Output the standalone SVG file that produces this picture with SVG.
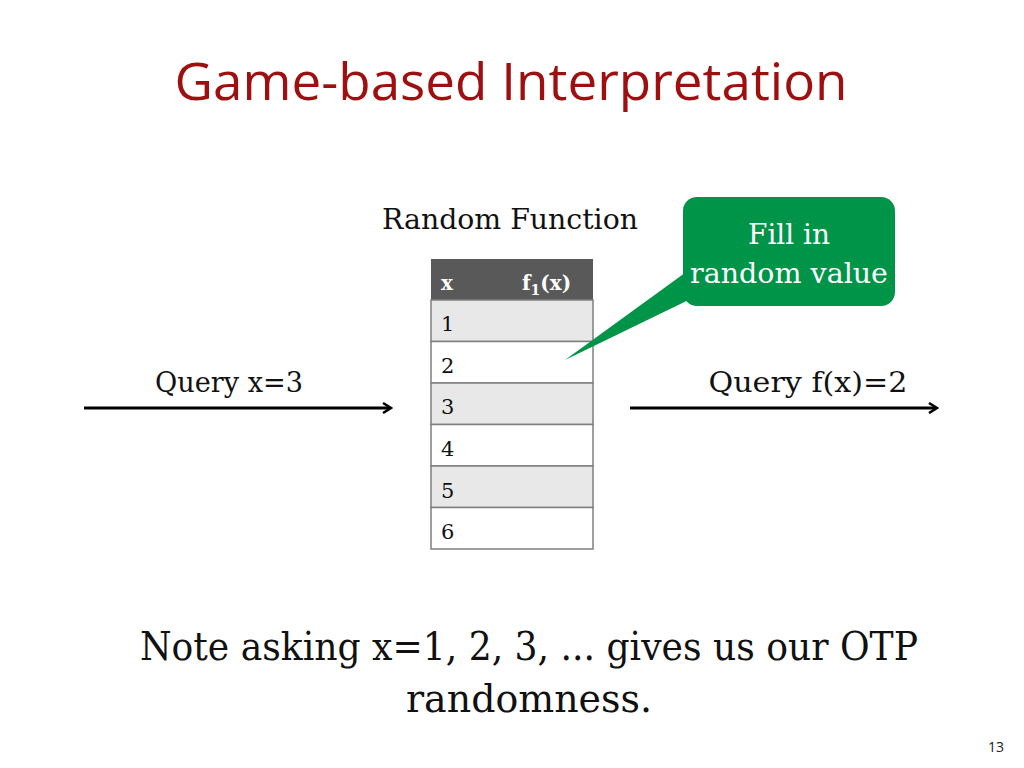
<svg xmlns="http://www.w3.org/2000/svg" width="1024" height="768" viewBox="0 0 1024 768">
<defs>
<style>
.serif{font-family:"DejaVu Serif","Liberation Serif",serif;fill:#111}
.row{fill:#fff;stroke:#7f7f7f;stroke-width:1.5}
.alt{fill:#e8e8e8;stroke:#7f7f7f;stroke-width:1.5}
.num{font-family:"DejaVu Serif","Liberation Serif",serif;font-size:21px;fill:#111}
.arrow{stroke:#000;stroke-width:3;fill:none}
</style>
<marker id="ah" markerWidth="12" markerHeight="12" refX="9" refY="6" orient="auto" markerUnits="userSpaceOnUse">
<path d="M2,1 L10,6 L2,11" fill="none" stroke="#000" stroke-width="2.5"/>
</marker>
</defs>
<rect width="1024" height="768" fill="#fff"/>
<text x="511" y="100" text-anchor="middle" font-family="'Open Sans','Liberation Sans',sans-serif" font-size="51" fill="#9e1010" textLength="673" lengthAdjust="spacingAndGlyphs">Game-based Interpretation</text>

<g id="table">
<text class="serif" x="510" y="229" text-anchor="middle" font-size="27" textLength="256" lengthAdjust="spacingAndGlyphs">Random Function</text>
<rect x="431" y="259" width="162" height="41" fill="#595959"/>
<text x="441" y="290" font-family="'DejaVu Serif','Liberation Serif',serif" font-weight="bold" font-size="20" fill="#fff">x</text>
<text x="522" y="290" font-family="'DejaVu Serif','Liberation Serif',serif" font-weight="bold" font-size="20" fill="#fff">f<tspan font-size="14" dy="5">1</tspan><tspan dy="-5">(x)</tspan></text>
<rect class="alt" x="431" y="300" width="162" height="41.5"/>
<rect class="row" x="431" y="341.5" width="162" height="41.5"/>
<rect class="alt" x="431" y="383" width="162" height="41.5"/>
<rect class="row" x="431" y="424.5" width="162" height="41.5"/>
<rect class="alt" x="431" y="466" width="162" height="41.5"/>
<rect class="row" x="431" y="507.5" width="162" height="41.5"/>
<text class="num" x="441" y="331">1</text>
<text class="num" x="441" y="373">2</text>
<text class="num" x="441" y="414">3</text>
<text class="num" x="441" y="456">4</text>
<text class="num" x="441" y="498">5</text>
<text class="num" x="441" y="539">6</text>
</g>

<g id="callout">
<path d="M700,262 L565,360 L705,292 Z" fill="#009448"/>
<rect x="683" y="197" width="212" height="109" rx="14" fill="#009448"/>
<text x="789" y="244" text-anchor="middle" font-family="'DejaVu Serif','Liberation Serif',serif" font-size="27" fill="#fff" textLength="82" lengthAdjust="spacingAndGlyphs">Fill in</text>
<text x="789" y="283" text-anchor="middle" font-family="'DejaVu Serif','Liberation Serif',serif" font-size="27" fill="#fff" textLength="198" lengthAdjust="spacingAndGlyphs">random value</text>
</g>

<g id="query-in">
<text class="serif" x="229" y="392" text-anchor="middle" font-size="27" textLength="148" lengthAdjust="spacingAndGlyphs">Query x=3</text>
</g>
<g id="query-out">
<text class="serif" x="808" y="392" text-anchor="middle" font-size="27" textLength="199" lengthAdjust="spacingAndGlyphs">Query f(x)=2</text>
</g>

<g id="connectors">
<line class="arrow" x1="84" y1="408" x2="390" y2="408" marker-end="url(#ah)"/>
<line class="arrow" x1="630" y1="408" x2="936" y2="408" marker-end="url(#ah)"/>
</g>

<text class="serif" x="529" y="660" text-anchor="middle" font-size="40" textLength="778" lengthAdjust="spacingAndGlyphs">Note asking x=1, 2, 3, ... gives us our OTP</text>
<text class="serif" x="529" y="712" text-anchor="middle" font-size="40" textLength="246" lengthAdjust="spacingAndGlyphs">randomness.</text>
<text x="996" y="752" text-anchor="middle" font-family="'Open Sans','Liberation Sans',sans-serif" font-size="14" fill="#222">13</text>
</svg>
